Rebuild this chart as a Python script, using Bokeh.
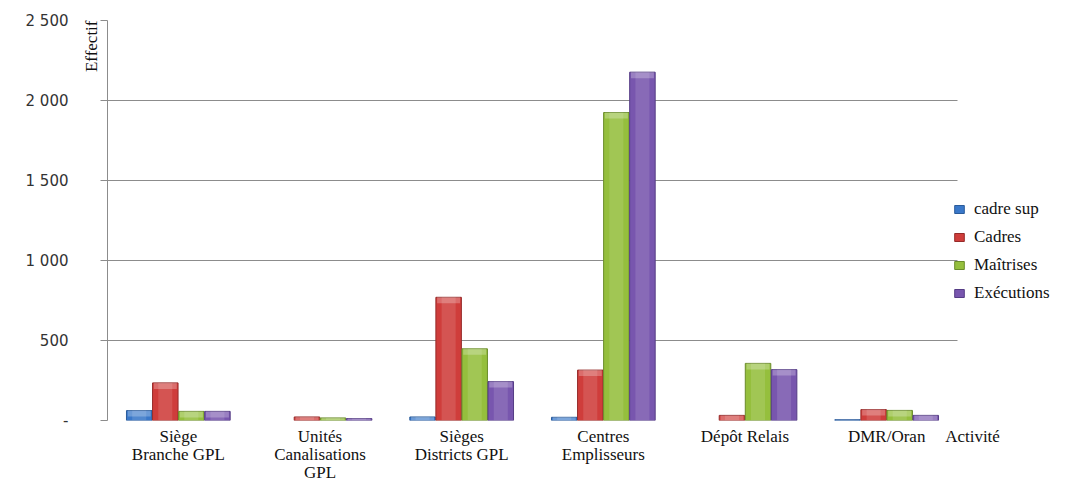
from bokeh.plotting import figure
from bokeh.models import (Range1d, ColumnDataSource, Legend, LegendItem, FixedTicker, LinearAxis,
                          Title, BoxAnnotation)
from bokeh.embed import file_html
from bokeh.resources import INLINE

# ---- data ----
categories = ["Siège\nBranche GPL", "Unités\nCanalisations\nGPL", "Sièges\nDistricts GPL",
              "Centres\nEmplisseurs", "Dépôt Relais", "DMR/Oran"]
series_names = ["cadre sup", "Cadres", "Maîtrises", "Exécutions"]
cadre_sup = [62, 0, 22, 20, 0, 5]
cadres = [235, 22, 770, 315, 32, 68]
maitrises = [57, 16, 448, 1925, 357, 63]
executions = [57, 12, 243, 2177, 318, 32]
y_ticks = [0, 500, 1000, 1500, 2000, 2500]
y_tick_labels = ["-", "500", "1 000", "1 500", "2 000", "2 500"]
y_title = "Effectif"
x_title = "Activité"

# ---- layout / styles ----
W, H = 1086, 485
left_b, top_b, bottom_b = 107, 20, 65
cat_px = 850 / len(categories)          # pixel width of one category slot
frame_w = W - left_b
frame_h = H - top_b - bottom_b
y_max = 2500
px_per_unit = 400 / y_max                # 2500 -> 400 px
y_min = -(frame_h - 400) / px_per_unit   # frame extends a little under zero
x_max = frame_w / cat_px
cap_units = 6 / px_per_unit              # height of the light bevel at the top of bars

fills = ["#3A78C9", "#CF3D3B", "#95BF3D", "#7856AE"]
lines = ["#2A5B9A", "#962A29", "#6A8C2A", "#553C85"]
offsets = [-0.276, -0.092, 0.092, 0.276]
bar_w = 0.18
grey = "#8C8C8C"
serif = "Liberation Serif"

n = len(categories)
centers = [i + 0.5 for i in range(n)]
series = [cadre_sup, cadres, maitrises, executions]

p = figure(x_range=Range1d(0, x_max), y_range=Range1d(y_min, y_max),
           width=W, height=H, output_backend="svg", toolbar_location=None,
           min_border_left=left_b, min_border_right=0, min_border_top=top_b, min_border_bottom=bottom_b)
p.outline_line_color = None
p.background_fill_color = "white"
p.border_fill_color = "white"

renderers = []
for i, vals in enumerate(series):
    xs = [c + offsets[i] for c in centers]
    src = ColumnDataSource(dict(x=xs, top=vals, la=[0.0 if v == 0 else 1.0 for v in vals],
                                cap=[max(0, v - cap_units) for v in vals]))
    r = p.vbar(x="x", top="top", bottom=0, width=bar_w, source=src,
               fill_color=fills[i], line_color=lines[i], line_alpha="la", line_width=1)
    renderers.append(r)
    # soft centre highlight and top bevel
    p.vbar(x="x", top="top", bottom=0, width=bar_w * 0.55, source=src,
           fill_color="white", fill_alpha=0.12, line_color=None)
    p.vbar(x="x", top="top", bottom="cap", width=bar_w * 0.9, source=src,
           fill_color="white", fill_alpha=0.25, line_color=None)

# grid (the zero grid line acts as the category axis line)
p.ygrid.ticker = FixedTicker(ticks=y_ticks)
p.ygrid.grid_line_color = grey
p.ygrid.grid_line_width = 1
p.xgrid.grid_line_color = None

# hide grid lines to the right of the plot area
p.add_layout(BoxAnnotation(left=n, fill_color="white", fill_alpha=1.0, line_alpha=0))

# inner y axis: line + outward ticks
inner = p.yaxis[0]
inner.ticker = FixedTicker(ticks=y_ticks)
inner.bounds = (0, y_max)
inner.major_label_overrides = {t: "" for t in y_ticks}
inner.major_label_standoff = 0
inner.axis_line_color = grey
inner.major_tick_out = 7
inner.major_tick_in = 0
inner.major_tick_line_color = grey
inner.minor_tick_line_color = None

ytitle = Title(text=y_title, align="right", standoff=0, text_font=serif, text_font_size="17px",
               text_font_style="normal", text_color="#111111")

outer = LinearAxis(ticker=FixedTicker(ticks=y_ticks), bounds=(0, y_max),
                   major_label_overrides={t: lab for t, lab in zip(y_ticks, y_tick_labels)},
                   axis_line_color=None, major_tick_line_color=None, minor_tick_line_color=None,
                   major_tick_out=0, major_tick_in=0, major_label_standoff=11,
                   major_label_text_font="DejaVu Sans", major_label_text_font_size="15px",
                   major_label_text_color="#333333")
p.left = [inner, ytitle, outer]

# x axis: category names plus the axis title as an extra label
act_x = n + 0.106
xa = p.xaxis[0]
xa.ticker = FixedTicker(ticks=centers + [act_x])
xa.major_label_overrides = {**{c: lab for c, lab in zip(centers, categories)}, act_x: x_title}
xa.axis_line_color = None
xa.major_tick_line_color = None
xa.minor_tick_line_color = None
xa.major_label_standoff = 0
xa.major_label_text_font = serif
xa.major_label_text_font_size = "17px"
xa.major_label_text_color = "#111111"
xa.major_label_text_line_height = 0.95

legend = Legend(items=[LegendItem(label=nm, renderers=[r]) for nm, r in zip(series_names, renderers)],
                location=(846, frame_h + top_b - 303), padding=0, margin=0, spacing=8,
                glyph_width=12, glyph_height=10, label_standoff=9,
                label_text_font=serif, label_text_font_size="17px", label_height=20,
                label_text_color="#111111", border_line_color=None, background_fill_alpha=0)
p.add_layout(legend, "center")

open("out.html", "w").write(file_html(p, INLINE))
